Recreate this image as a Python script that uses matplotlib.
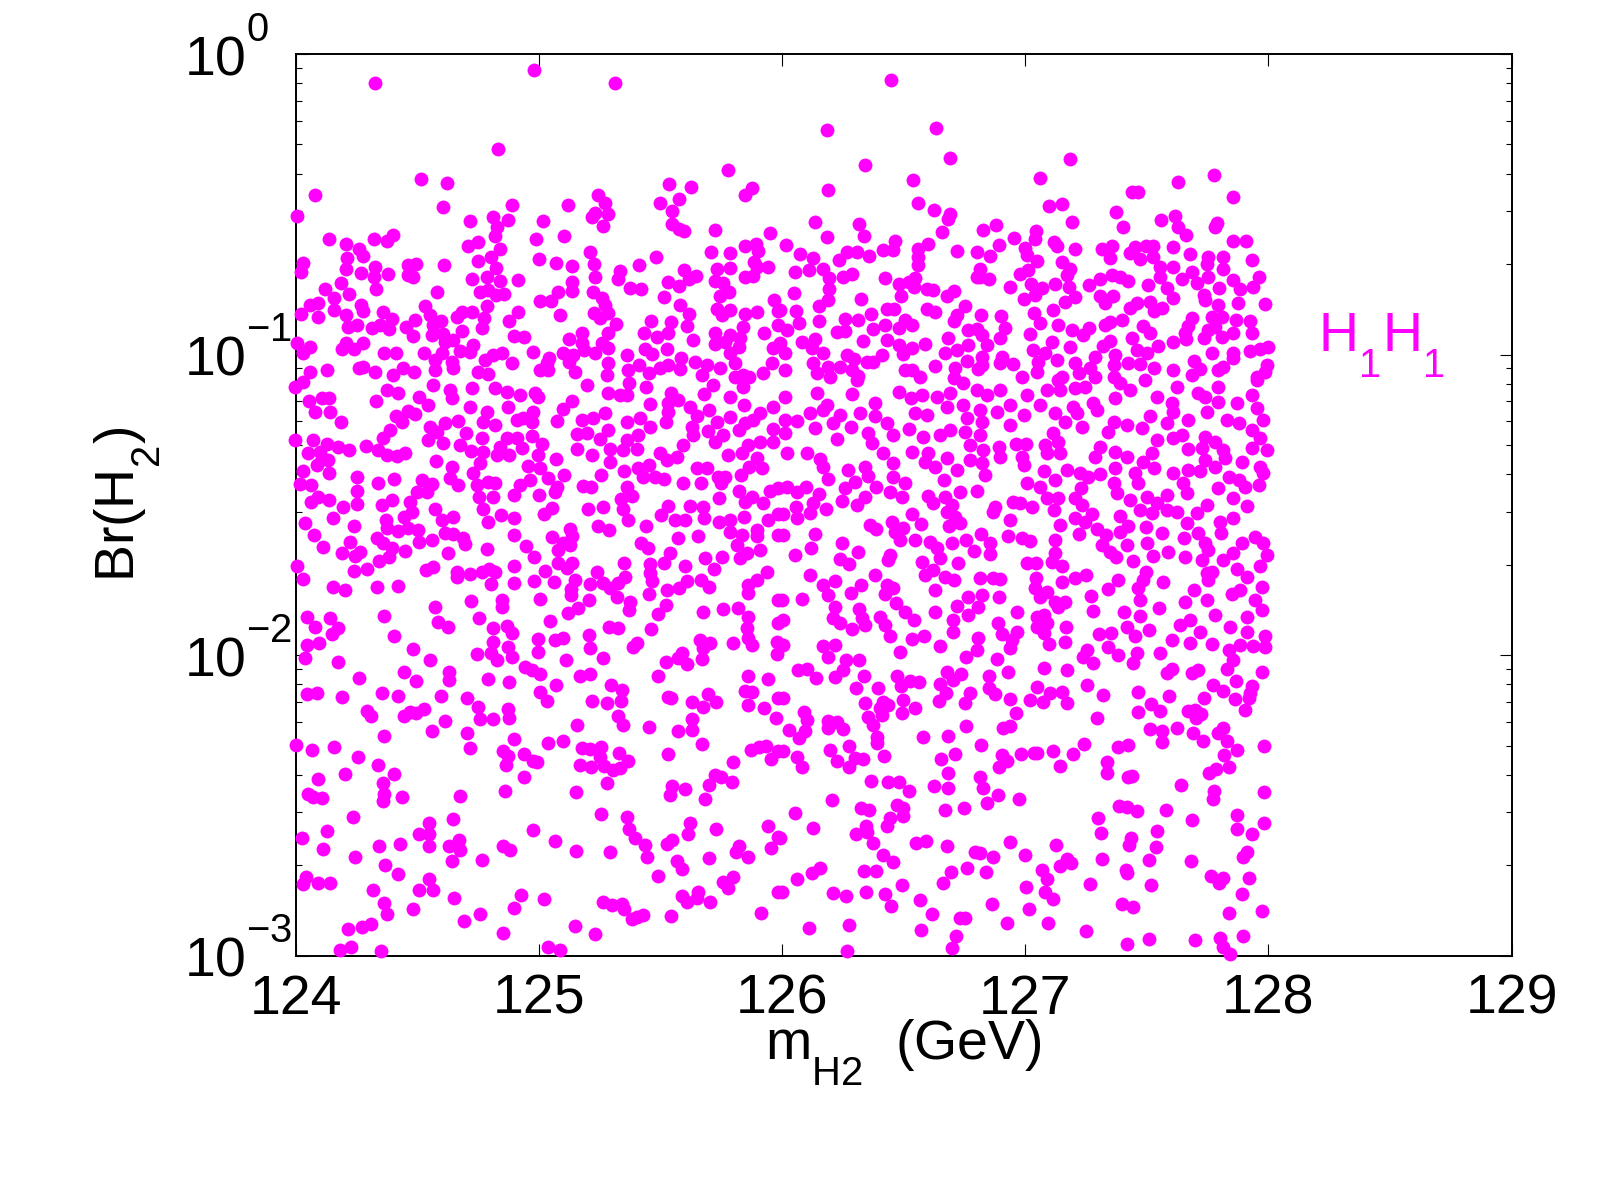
import numpy as np
import matplotlib
matplotlib.use("Agg")
import matplotlib.pyplot as plt
import matplotlib._mathtext as mathtext_internal
from matplotlib.ticker import FixedLocator, NullFormatter
from matplotlib.transforms import ScaledTranslation

plt.rcParams['font.family'] = ['Liberation Sans', 'DejaVu Sans']
plt.rcParams['mathtext.fontset'] = 'custom'
plt.rcParams['mathtext.rm'] = 'Liberation Sans'
plt.rcParams['mathtext.default'] = 'regular'

# scripts sit lower and higher in the original than mathtext's defaults
mathtext_internal.FontConstantsBase.sub1 = 0.93
mathtext_internal.FontConstantsBase.sup1 = 1.2
mathtext_internal.SHRINK_FACTOR = 0.72

# points: (m_H2 in GeV, log10 of Br)
upper_left = [
(124.327,-.095),(124.982,-.053),(125.315,-.098),(124.831,-.317),(125.779,-.386),(124.514,-.416),(124.621,-.430),(125.537,-.431),(125.626,-.443),(125.878,-.447),
(125.848,-.468),(124.080,-.470),(125.244,-.469),(125.578,-.481),(125.272,-.495),(125.498,-.495),(124.889,-.503),(125.122,-.504),(124.608,-.508),(124.006,-.538),
(125.286,-.531),(125.549,-.524),(125.229,-.528),(125.220,-.542),(124.813,-.542),(124.872,-.552),(124.717,-.555),(125.016,-.557),(125.265,-.571),(125.549,-.564),
(124.830,-.577),(125.577,-.583),(125.597,-.588),(125.725,-.584),(124.820,-.604),(125.951,-.595),(124.139,-.615),(124.399,-.601),(124.321,-.617),(124.375,-.622),
(124.987,-.615),(125.102,-.604),(124.751,-.626),(124.709,-.640),(124.206,-.633),(124.262,-.648),(124.841,-.649),(125.849,-.639),(125.892,-.632),(125.707,-.659),
(125.786,-.662),(125.902,-.654),(125.211,-.659),(124.279,-.673),(124.213,-.680),(124.804,-.676),(125.482,-.675),(124.029,-.696),(124.024,-.724),(124.751,-.690),
(124.999,-.683),(125.071,-.695),(125.135,-.706),(125.226,-.699),(124.464,-.702),(124.495,-.699),(124.610,-.702),(125.413,-.702),(124.328,-.707),(124.207,-.715),
(124.824,-.711),(125.334,-.723),(125.597,-.717),(125.734,-.714),(125.784,-.713),(125.885,-.691),(125.941,-.709),(125.896,-.707),(124.270,-.729),(124.379,-.731),
(124.464,-.734),(124.484,-.742),(124.321,-.743),(124.727,-.747),(124.786,-.741),(125.230,-.742),(125.326,-.750),(125.533,-.758),(125.645,-.739),(125.618,-.747),
(125.849,-.743),(125.879,-.739),(125.726,-.754),(124.916,-.753),(124.841,-.756),(125.138,-.759),(124.187,-.761),(125.759,-.763),(125.577,-.771),(124.121,-.781),
(124.329,-.783),(124.583,-.792),(124.758,-.793),(124.793,-.785),(124.824,-.802),(124.857,-.798),(125.137,-.787),(125.224,-.793),(125.080,-.793),(125.375,-.777),
(125.422,-.783),(125.782,-.793),(125.745,-.806),(124.220,-.799),(124.158,-.811),(125.515,-.807),(125.967,-.818),(125.006,-.822),(125.049,-.822),(125.259,-.813),
(124.269,-.834),(124.059,-.835),(124.094,-.829),(124.532,-.840),(124.786,-.840),(125.581,-.834),(124.158,-.852),(124.279,-.855),(125.272,-.835),(125.734,-.847),
(125.786,-.851),(125.984,-.854),(124.024,-.866),(124.091,-.874),(124.206,-.870),(124.361,-.857),(124.724,-.858),(124.684,-.857),(124.916,-.857),(125.089,-.868),
(125.227,-.863),(125.286,-.863),(125.619,-.866),(125.848,-.866),(125.896,-.859),(125.755,-.868),(124.553,-.868),(124.662,-.876),(124.775,-.879),(124.491,-.885),
(124.599,-.887),(124.396,-.883),(125.461,-.889),(125.542,-.893),(124.879,-.888),(125.252,-.879),(125.608,-.904),(125.841,-.907),(125.985,-.903),(124.216,-.907),
(124.254,-.903),(124.313,-.910),(124.347,-.902),(124.384,-.916),(124.454,-.907),(124.767,-.911),(125.316,-.899),(124.566,-.902),(124.686,-.921),(125.725,-.927),
(125.927,-.928),(125.434,-.929),(125.176,-.929),(125.286,-.929),(125.533,-.929),(125.485,-.940),(124.484,-.939),(124.605,-.931),(124.561,-.935),(124.900,-.937),
(124.941,-.940),(125.784,-.936),(125.633,-.950),(125.126,-.948),(125.827,-.946),(124.649,-.951),(125.725,-.965),(125.766,-.957),(124.007,-.962),(124.059,-.975),
(124.029,-.994),(124.207,-.962),(124.279,-.962),(124.192,-.981),(124.242,-.982),(124.731,-.968),(124.614,-.957),(125.176,-.962),(125.259,-.962),(125.186,-.985),
(125.231,-.996),(125.286,-.979),(125.825,-.974),(125.437,-.980),(125.526,-.981),(125.964,-.979),(124.365,-.994),(124.413,-.994),(124.529,-.996),(124.603,-.996),
(124.676,-.987),(124.717,-.991),(124.847,-.994),(124.813,-1.001),(124.779,-1.018),(124.975,-.991),(125.101,-.996),(125.142,-1.001),(125.361,-1.002),(125.464,-.998),
(125.786,-.996),(125.586,-1.010),(125.043,-1.011),(125.126,-1.024),(124.573,-1.018),(124.642,-1.024),(125.286,-1.029),(125.642,-1.024),(125.807,-1.028),(125.693,-1.035),
(125.958,-1.027),(124.891,-1.029),(125.413,-1.035),(125.032,-1.029),(125.005,-1.051),(124.128,-1.053),(124.279,-1.040),(124.262,-1.044),(124.443,-1.046),(124.488,-1.057),
(124.573,-1.051),(124.646,-1.044),(125.368,-1.051),(125.498,-1.044),(125.533,-1.035),(125.581,-1.049),(125.745,-1.046),(125.149,-1.059),(125.038,-1.051),(124.750,-1.057),
(124.059,-1.057),(124.327,-1.057),(124.793,-1.065),(124.402,-1.068),(125.279,-1.068),(125.451,-1.062),(125.670,-1.068),(125.923,-1.062),(125.807,-1.073),(125.841,-1.068),
(125.866,-1.076),
]

upper_right = [
(126.450,-.088),(126.184,-.254),(126.631,-.247),(126.691,-.347),(127.182,-.348),(126.343,-.370),(126.537,-.420),(127.062,-.414),(127.629,-.425),(127.778,-.404),
(127.438,-.458),(127.465,-.458),(126.188,-.452),(127.856,-.475),(126.561,-.496),(126.624,-.518),(127.097,-.505),(127.153,-.499),(126.691,-.532),(126.681,-.549),
(127.375,-.526),(127.615,-.539),(126.135,-.560),(126.318,-.565),(127.191,-.560),(126.879,-.568),(127.557,-.553),(127.401,-.575),(127.787,-.563),(127.779,-.575),
(126.828,-.586),(127.045,-.590),(126.659,-.591),(127.630,-.577),(126.184,-.608),(126.337,-.604),(127.659,-.602),(127.041,-.615),(126.954,-.613),(127.856,-.621),
(127.907,-.621),(126.465,-.622),(126.018,-.635),(127.117,-.624),(126.601,-.632),(126.894,-.634),(127.130,-.639),(127.205,-.648),(127.356,-.639),(127.317,-.650),
(127.452,-.641),(127.496,-.639),(127.524,-.639),(127.609,-.641),(126.721,-.654),(126.417,-.652),(126.455,-.652),(126.557,-.650),(127.000,-.647),(126.073,-.664),
(126.803,-.658),(127.431,-.663),(127.678,-.665),(126.307,-.659),(126.266,-.658),(126.359,-.671),(126.855,-.672),(126.129,-.680),(126.236,-.685),(126.557,-.674),
(127.349,-.680),(127.470,-.683),(127.527,-.674),(127.753,-.674),(127.812,-.674),(127.931,-.685),(127.047,-.690),(127.152,-.691),(127.555,-.707),(127.746,-.699),
(126.561,-.703),(127.006,-.669),(126.814,-.714),(127.184,-.716),(127.609,-.707),(126.167,-.715),(126.109,-.718),(126.054,-.724),(126.287,-.733),(126.252,-.742),
(127.815,-.716),(127.685,-.724),(127.013,-.718),(126.979,-.733),(127.171,-.735),(127.356,-.735),(127.308,-.747),(127.390,-.743),(127.424,-.755),(126.814,-.741),
(126.849,-.747),(126.803,-.743),(126.195,-.746),(126.425,-.746),(126.547,-.746),(126.520,-.757),(127.959,-.743),(127.753,-.743),(127.644,-.747),(127.555,-.741),
(127.853,-.752),(127.708,-.763),(126.479,-.766),(126.544,-.774),(127.123,-.765),(127.504,-.768),(126.938,-.775),(127.264,-.770),(127.023,-.766),(126.595,-.783),
(126.622,-.785),(126.705,-.787),(127.180,-.774),(127.935,-.776),(127.796,-.780),(127.881,-.783),(127.582,-.780),(126.192,-.781),(127.068,-.780),(127.041,-.802),
(126.488,-.805),(126.050,-.796),(126.677,-.804),(126.325,-.814),(126.187,-.817),(126.993,-.816),(127.205,-.808),(127.308,-.805),(127.360,-.804),(127.733,-.802),
(127.740,-.818),(127.609,-.813),(127.328,-.829),(127.164,-.824),(127.511,-.824),(127.459,-.829),(127.875,-.829),(127.986,-.831),(126.150,-.838),(127.794,-.836),
(126.753,-.840),(127.431,-.846),(127.561,-.844),(127.531,-.854),(126.433,-.849),(126.462,-.849),(126.595,-.849),(126.627,-.860),(127.116,-.852),(126.056,-.854),
(125.992,-.852),(127.034,-.862),(126.718,-.868),(126.818,-.870),(126.899,-.872),(126.365,-.866),(127.685,-.879),(127.767,-.874),(127.808,-.874),(126.314,-.885),
(126.154,-.887),(126.257,-.883),(126.070,-.896),(126.506,-.885),(127.866,-.886),(127.925,-.888),(127.061,-.894),(127.397,-.885),(127.349,-.890),(127.328,-.902),
(126.705,-.888),(126.424,-.902),(126.536,-.902),(127.136,-.902),(127.671,-.905),(127.781,-.907),(127.264,-.913),(127.483,-.905),(126.917,-.913),(126.479,-.913),
(126.019,-.918),(126.259,-.921),(126.225,-.925),(126.376,-.916),(126.766,-.918),(126.801,-.916),(127.191,-.918),(127.753,-.918),(127.657,-.929),(127.513,-.929),
(127.856,-.929),(127.931,-.929),(127.020,-.931),(127.438,-.946),(126.897,-.944),(127.239,-.935),(126.684,-.946),(126.821,-.935),(127.735,-.946),(127.808,-.940),
(126.332,-.955),(126.431,-.951),(127.349,-.955),(127.109,-.957),(127.607,-.958),(127.660,-.949),(126.081,-.957),(126.136,-.949),(127.321,-.970),(126.587,-.966),
(126.766,-.968),(126.842,-.968),(126.479,-.968),(127.544,-.971),(127.998,-.974),(127.966,-.982),(127.925,-.988),(125.992,-.962),(126.013,-.996),(126.122,-.979),
(126.170,-.996),(126.266,-1.001),(126.376,-1.024),(126.533,-.979),(126.499,-.998),(127.184,-.974),(126.821,-1.007),(126.670,-.994),(126.410,-1.001),(126.718,-.985),
(127.031,-.985),(127.082,-.996),(127.461,-.985),(127.500,-.994),(127.767,-.996),(127.856,-.994),(126.903,-1.007),(127.369,-1.001),(127.287,-1.007),(126.294,-1.016),
(126.760,-1.021),(127.130,-1.018),(126.351,-1.024),(127.856,-1.012),(127.694,-1.020),(127.424,-1.027),(126.129,-1.029),(126.629,-1.038),(126.191,-1.040),(126.239,-1.040),
(126.897,-1.029),(127.054,-1.024),(127.472,-1.031),(127.205,-1.029),(127.363,-1.035),(126.821,-1.035),(126.805,-1.049),(126.712,-1.046),(126.951,-1.032),(127.531,-1.045),
(127.815,-1.042),(127.719,-1.049),(127.609,-1.053),(127.794,-1.051),(127.993,-1.035),(126.013,-1.053),(126.506,-1.051),(126.533,-1.051),(126.287,-1.051),(127.047,-1.057),
(127.219,-1.060),(127.267,-1.046),(126.143,-1.062),(127.986,-1.057),(127.952,-1.073),(127.685,-1.068),(126.568,-1.073),(126.314,-1.071),(126.198,-1.073),(126.986,-1.073),
(126.705,-1.079),(127.150,-1.076),(127.287,-1.073),(127.363,-1.073),
]

middle_left = [
(123.998,-1.107),(124.032,-1.090),(124.566,-1.101),(124.724,-1.110),(124.820,-1.112),(124.868,-1.126),(124.923,-1.134),(124.985,-1.129),(124.998,-1.140),(124.375,-1.118),
(124.423,-1.127),(124.635,-1.118),(124.642,-1.145),(124.509,-1.140),(124.546,-1.168),(124.331,-1.153),(124.057,-1.153),(124.107,-1.145),(124.139,-1.145),(124.080,-1.190),
(124.142,-1.190),(124.187,-1.223),(125.135,-1.153),(125.101,-1.182),(125.074,-1.220),(125.200,-1.101),(125.286,-1.129),(125.334,-1.134),(125.361,-1.134),(125.372,-1.093),
(125.441,-1.109),(125.457,-1.164),(125.542,-1.127),(125.574,-1.151),(125.533,-1.162),(125.533,-1.190),(125.523,-1.225),(125.622,-1.175),(125.700,-1.184),(125.649,-1.206),
(125.679,-1.131),(125.718,-1.101),(125.786,-1.140),(125.844,-1.168),(125.841,-1.107),(125.964,-1.173),(125.910,-1.195),(125.882,-1.218),(125.784,-1.209),(125.731,-1.223),
(125.848,-1.229),(125.821,-1.251),(125.629,-1.240),(125.633,-1.267),(125.697,-1.254),(125.759,-1.267),(125.725,-1.290),(125.962,-1.249),(125.910,-1.290),(125.964,-1.290),
(125.862,-1.301),(124.717,-1.175),(124.786,-1.190),(124.772,-1.223),(124.820,-1.234),(124.875,-1.175),(124.909,-1.218),(124.978,-1.190),(124.971,-1.223),(124.937,-1.212),
(124.413,-1.204),(124.436,-1.226),(124.464,-1.187),(124.491,-1.199),(124.388,-1.251),(124.361,-1.276),(124.553,-1.240),(124.614,-1.229),(124.669,-1.220),(124.701,-1.262),
(124.765,-1.276),(124.546,-1.284),(124.608,-1.293),(124.580,-1.256),(124.676,-1.301),(124.720,-1.321),(124.868,-1.276),(124.909,-1.279),(124.971,-1.271),(125.012,-1.297),
(124.930,-1.310),(124.841,-1.306),(124.827,-1.334),(124.879,-1.334),(124.998,-1.334),(124.772,-1.323),(124.758,-1.362),(123.998,-1.285),(124.073,-1.284),(124.128,-1.297),
(124.176,-1.308),(124.221,-1.317),(124.052,-1.328),(124.100,-1.323),(124.107,-1.348),(124.087,-1.367),(124.135,-1.351),(124.139,-1.393),(124.290,-1.304),(124.340,-1.317),
(124.375,-1.334),(124.416,-1.337),(124.450,-1.326),(125.156,-1.314),(125.218,-1.334),(125.176,-1.218),(125.224,-1.212),(125.272,-1.193),(125.286,-1.251),(125.156,-1.265),
(125.197,-1.262),(125.252,-1.282),(125.361,-1.223),(125.416,-1.212),(125.457,-1.240),(125.409,-1.267),(125.361,-1.284),(125.293,-1.314),(125.348,-1.317),(125.403,-1.315),
(125.293,-1.358),(125.498,-1.328),(125.526,-1.351),(125.570,-1.342),(125.594,-1.301),(125.352,-1.387),(125.409,-1.378),(125.451,-1.367),(125.430,-1.406),(125.478,-1.406),
(125.515,-1.415),(125.649,-1.376),(125.693,-1.378),(125.738,-1.406),(125.766,-1.409),(125.749,-1.428),(125.779,-1.334),(125.834,-1.328),(125.896,-1.345),(125.917,-1.378),
(125.830,-1.401),(125.866,-1.373),(124.577,-1.354),(124.642,-1.373),(124.635,-1.412),(124.669,-1.434),(124.731,-1.393),(124.957,-1.371),(125.005,-1.378),(125.071,-1.348),
(125.105,-1.402),(125.037,-1.412),(124.964,-1.417),(124.923,-1.434),(125.067,-1.456),(125.074,-1.439),(125.002,-1.468),(124.898,-1.467),(125.255,-1.400),(125.180,-1.436),
(125.213,-1.439),(125.361,-1.439),(125.382,-1.470),(125.592,-1.428),(125.667,-1.428),(124.029,-1.387),(124.018,-1.432),(124.063,-1.434),(124.254,-1.408),(124.254,-1.453),
(124.340,-1.428),(124.406,-1.413),(124.518,-1.417),(124.560,-1.432),(124.498,-1.456),(124.471,-1.489),(124.539,-1.456),(124.793,-1.423),(124.820,-1.428),(124.747,-1.434),
(124.754,-1.475),(124.813,-1.473),(124.772,-1.515),(124.062,-1.489),(124.094,-1.473),(124.137,-1.484),(124.196,-1.506),(124.254,-1.498),(124.153,-1.545),(124.354,-1.500),
(124.395,-1.484),(124.477,-1.523),(124.446,-1.539),(124.573,-1.515),(124.601,-1.552),(124.649,-1.539),(124.793,-1.558),(124.845,-1.534),(124.900,-1.545),(125.023,-1.530),
(125.053,-1.511),(125.204,-1.515),(125.265,-1.508),(125.337,-1.481),(125.348,-1.515),(125.368,-1.552),(125.742,-1.478),(125.825,-1.453),(125.848,-1.489),(125.875,-1.473),
(125.923,-1.495),(125.951,-1.453),(125.985,-1.445),(125.533,-1.504),(125.503,-1.534),(125.560,-1.552),(125.601,-1.550),(125.622,-1.503),(125.677,-1.508),(125.681,-1.545),
(125.845,-1.541),(125.944,-1.552),(125.985,-1.530),(125.742,-1.558),(125.786,-1.550),(124.039,-1.559),(124.077,-1.600),(124.242,-1.572),(124.372,-1.550),(124.377,-1.578),
(124.423,-1.586),(124.464,-1.578),(124.505,-1.584),(124.508,-1.622),(124.560,-1.617),(124.614,-1.595),(124.649,-1.597),(124.687,-1.611),(124.697,-1.631),(124.898,-1.600),
(124.946,-1.636),(125.441,-1.570),(125.245,-1.569),(125.290,-1.584),(125.053,-1.606),(125.128,-1.581),(125.135,-1.603),(125.101,-1.628),(125.080,-1.650),(125.128,-1.633),
(125.419,-1.626),(125.448,-1.642),(125.571,-1.609),(125.656,-1.602),(125.786,-1.589),(125.834,-1.600),(125.896,-1.584),(125.896,-1.603),(125.814,-1.633),(125.985,-1.600),
(124.114,-1.639),(124.224,-1.622),(124.265,-1.656),(124.190,-1.661),(124.244,-1.670),(124.333,-1.609),(124.361,-1.628),(124.395,-1.644),(124.450,-1.653),(124.384,-1.672),
(124.344,-1.687),(124.625,-1.661),(124.786,-1.647),(124.980,-1.672),(125.540,-1.659),(125.515,-1.694),(125.684,-1.678),(125.752,-1.672),(125.910,-1.650),(125.827,-1.678),
(125.855,-1.661),(124.005,-1.703),(124.029,-1.746),(124.242,-1.720),(124.295,-1.714),(124.536,-1.717),(124.564,-1.708),(124.665,-1.722),(124.662,-1.739),(124.717,-1.731),
(124.765,-1.724),(124.797,-1.713),(124.820,-1.722),(124.898,-1.703),(125.080,-1.692),(125.115,-1.711),(125.135,-1.692),(125.026,-1.720),(125.352,-1.692),(125.457,-1.698),
(125.457,-1.728),(125.464,-1.755),(125.599,-1.705),(125.722,-1.713),(125.937,-1.722),(125.896,-1.750),(125.238,-1.724),(125.355,-1.739),(125.327,-1.761),(124.155,-1.774),
(124.203,-1.783),(124.333,-1.774),(124.420,-1.770),(124.802,-1.764),(124.900,-1.761),(124.982,-1.755),(125.063,-1.758),(125.149,-1.750),(125.211,-1.764),(125.265,-1.761),
(125.293,-1.778),(125.529,-1.783),(125.577,-1.778),(125.611,-1.755),(125.667,-1.750),(125.700,-1.772),(125.862,-1.766),(125.862,-1.792),(125.131,-1.781),(125.131,-1.800),
(125.323,-1.805),(125.451,-1.798),(124.720,-1.819),(124.850,-1.816),(124.850,-1.839),(125.005,-1.814),(125.208,-1.816),(125.375,-1.822),(125.372,-1.850),(125.522,-1.833),
(125.985,-1.816),(124.573,-1.841),(125.160,-1.844),(125.119,-1.861),(125.492,-1.864),(125.677,-1.855),(125.756,-1.847),(125.818,-1.844),(124.364,-1.870),(124.048,-1.872),
(124.142,-1.877),(124.754,-1.877),(124.584,-1.891),(124.628,-1.907),(124.080,-1.908),(124.176,-1.911),(124.148,-1.929),(125.046,-1.885),(125.862,-1.874),(125.855,-1.911),
(125.985,-1.894),(124.868,-1.903),(124.813,-1.911),(124.889,-1.925),(125.290,-1.908),(125.324,-1.911),(125.461,-1.914),(124.405,-1.938),(124.098,-1.961),(124.046,-1.966),
(124.813,-1.955),(124.995,-1.947),(125.067,-1.949),(125.098,-1.942),(125.207,-1.933),(125.862,-1.944),(125.875,-1.966),(125.663,-1.949),(125.704,-1.960),(125.797,-1.960),
(125.389,-1.972),(125.403,-1.960),(125.978,-1.955),(124.484,-1.980),(124.872,-1.974),(124.995,-1.988),(124.745,-1.996),(124.802,-1.994),(125.211,-1.977),(125.978,-1.996),
(125.677,-1.977),(125.588,-1.994),(124.039,-2.008),(124.173,-2.022),(124.553,-2.016),(124.827,-2.016),(124.889,-2.007),(125.112,-2.016),(125.263,-2.010),(125.523,-2.024),
(125.670,-2.013),(125.608,-2.029),(125.574,-2.010),
]

middle_right = [
(126.013,-1.140),(126.143,-1.129),(126.184,-1.168),(126.239,-1.201),(126.170,-1.184),(126.287,-1.131),(126.307,-1.085),(126.479,-1.123),(126.529,-1.145),(126.575,-1.134),
(126.636,-1.140),(126.691,-1.129),(126.746,-1.096),(126.801,-1.118),(126.842,-1.134),(126.897,-1.118),(126.383,-1.162),(126.115,-1.193),(126.061,-1.220),(126.013,-1.218),
(126.136,-1.245),(126.211,-1.229),(126.283,-1.242),(126.321,-1.195),(126.383,-1.206),(126.431,-1.229),(126.225,-1.282),(126.013,-1.262),(126.355,-1.262),(126.369,-1.295),
(126.458,-1.267),(126.520,-1.249),(126.581,-1.273),(126.533,-1.323),(126.417,-1.328),(126.458,-1.362),(126.547,-1.195),(126.595,-1.201),(126.677,-1.173),(126.746,-1.168),
(126.814,-1.184),(126.883,-1.190),(126.938,-1.168),(126.995,-1.200),(126.938,-1.234),(127.006,-1.134),(127.061,-1.168),(127.088,-1.118),(127.136,-1.085),(127.143,-1.118),
(127.123,-1.195),(127.205,-1.112),(127.246,-1.107),(127.198,-1.173),(127.232,-1.240),(127.280,-1.162),(127.369,-1.145),(127.431,-1.118),(127.390,-1.096),(127.493,-1.085),
(127.541,-1.140),(127.623,-1.107),(127.712,-1.129),(127.739,-1.140),(127.792,-1.107),(127.931,-1.134),(127.952,-1.085),(126.760,-1.212),(126.821,-1.223),(126.691,-1.251),
(126.650,-1.267),(126.753,-1.256),(126.814,-1.267),(126.890,-1.306),(126.828,-1.317),(126.897,-1.342),(126.773,-1.301),(126.677,-1.345),(126.602,-1.328),(126.588,-1.356),
(126.629,-1.373),(126.718,-1.384),(126.664,-1.417),(126.835,-1.401),(126.773,-1.351),(126.821,-1.362),(126.962,-1.297),(127.003,-1.297),(126.986,-1.342),(126.993,-1.367),
(127.113,-1.262),(127.082,-1.301),(127.136,-1.290),(127.088,-1.328),(127.143,-1.328),(127.308,-1.308),(127.287,-1.340),(127.369,-1.323),(127.417,-1.340),(127.171,-1.384),
(127.226,-1.395),(127.260,-1.406),(127.308,-1.397),(127.369,-1.378),(127.363,-1.428),(127.379,-1.459),(127.452,-1.395),(127.465,-1.428),(127.530,-1.376),(127.486,-1.356),
(127.520,-1.328),(127.609,-1.395),(127.417,-1.234),(127.342,-1.256),(127.164,-1.223),(127.212,-1.195),(127.294,-1.184),(127.363,-1.223),(127.479,-1.245),(127.513,-1.206),
(127.582,-1.229),(127.541,-1.284),(127.609,-1.279),(127.671,-1.218),(127.644,-1.267),(127.668,-1.315),(127.739,-1.273),(127.726,-1.312),(127.781,-1.290),(127.815,-1.317),
(127.739,-1.351),(127.822,-1.345),(127.781,-1.373),(127.890,-1.356),(127.746,-1.190),(127.794,-1.157),(127.870,-1.162),(127.877,-1.229),(127.829,-1.218),(127.931,-1.251),
(127.979,-1.218),(127.952,-1.179),(127.931,-1.312),(127.992,-1.317),(127.966,-1.279),(127.966,-1.373),(127.979,-1.395),(127.962,-1.434),(127.836,-1.406),(127.877,-1.417),
(127.904,-1.439),(127.794,-1.443),(127.671,-1.384),(127.719,-1.389),(127.650,-1.428),(127.664,-1.462),(127.609,-1.190),(127.602,-1.162),(126.019,-1.328),(126.102,-1.328),
(126.156,-1.348),(126.170,-1.373),(126.191,-1.415),(126.273,-1.384),(126.342,-1.373),(126.355,-1.403),(126.259,-1.445),(126.300,-1.423),(126.385,-1.439),(126.444,-1.456),
(126.506,-1.428),(126.492,-1.475),(126.458,-1.406),(126.248,-1.487),(126.310,-1.499),(126.342,-1.473),(126.019,-1.439),(126.061,-1.456),(126.099,-1.439),(126.150,-1.464),
(126.129,-1.495),(126.058,-1.506),(126.006,-1.530),(126.061,-1.545),(126.115,-1.528),(126.181,-1.514),(126.362,-1.567),(126.387,-1.580),(126.451,-1.556),(126.465,-1.589),
(126.499,-1.578),(126.485,-1.617),(126.547,-1.617),(126.533,-1.530),(126.570,-1.564),(126.609,-1.622),(126.636,-1.644),(126.650,-1.678),(126.602,-1.470),(126.622,-1.495),
(126.670,-1.473),(126.732,-1.456),(126.801,-1.453),(126.698,-1.500),(126.677,-1.523),(126.712,-1.539),(126.732,-1.561),(126.688,-1.572),(126.876,-1.508),(126.869,-1.523),
(126.938,-1.550),(126.951,-1.489),(126.979,-1.495),(127.027,-1.508),(127.006,-1.428),(127.075,-1.389),(127.123,-1.417),(127.061,-1.439),(127.088,-1.478),(127.136,-1.478),
(127.119,-1.517),(127.141,-1.567),(127.205,-1.478),(127.230,-1.445),(127.232,-1.500),(127.205,-1.545),(127.274,-1.530),(127.246,-1.556),(127.223,-1.597),(127.294,-1.581),
(127.332,-1.600),(127.315,-1.633),(127.349,-1.656),(127.374,-1.674),(127.390,-1.537),(127.424,-1.572),(127.390,-1.589),(127.417,-1.633),(127.500,-1.628),(127.497,-1.575),
(127.431,-1.484),(127.472,-1.517),(127.500,-1.473),(127.541,-1.495),(127.582,-1.467),(127.520,-1.528),(127.582,-1.517),(127.623,-1.523),(127.664,-1.559),(127.705,-1.528),
(127.712,-1.595),(127.746,-1.500),(127.739,-1.628),(127.801,-1.556),(127.804,-1.595),(127.856,-1.478),(127.911,-1.503),(127.856,-1.545),(127.561,-1.595),(127.653,-1.611),
(127.655,-1.672),(127.586,-1.656),(127.527,-1.669),(127.442,-1.687),(127.753,-1.650),(127.726,-1.683),(127.815,-1.683),(127.856,-1.661),(127.890,-1.628),(127.945,-1.606),
(127.979,-1.628),(127.993,-1.667),(127.966,-1.705),(127.870,-1.713),(127.911,-1.739),(127.973,-1.772),(127.746,-1.728),(127.767,-1.722),(127.753,-1.750),(127.497,-1.722),
(127.483,-1.750),(127.465,-1.778),(127.470,-1.816),(127.568,-1.758),(127.383,-1.750),(127.342,-1.780),(127.549,-1.844),(127.404,-1.857),(127.470,-1.870),(127.280,-1.853),
(127.271,-1.802),(126.136,-1.597),(126.118,-1.644),(126.054,-1.667),(126.006,-1.600),(126.246,-1.628),(126.314,-1.656),(126.239,-1.681),(126.277,-1.698),(126.444,-1.667),
(126.437,-1.683),(126.698,-1.628),(126.755,-1.617),(126.818,-1.598),(126.855,-1.628),(126.853,-1.664),(126.790,-1.652),(126.723,-1.694),(126.927,-1.602),(126.986,-1.611),
(127.020,-1.619),(127.123,-1.617),(127.123,-1.661),(127.109,-1.689),(127.150,-1.705),(127.006,-1.694),(127.045,-1.692),(126.577,-1.689),(126.588,-1.733),(126.622,-1.717),
(126.670,-1.739),(126.705,-1.750),(126.629,-1.783),(126.814,-1.742),(126.897,-1.746),(126.869,-1.744),(126.821,-1.800),(126.766,-1.805),(126.894,-1.805),(126.807,-1.841),
(126.718,-1.836),(126.764,-1.866),(127.150,-1.758),(127.205,-1.744),(127.249,-1.733),(127.045,-1.744),(127.041,-1.778),(127.061,-1.805),(127.088,-1.789),(127.123,-1.822),
(127.164,-1.822),(127.136,-1.839),(126.113,-1.735),(126.170,-1.766),(126.218,-1.755),(126.191,-1.800),(126.283,-1.792),(126.324,-1.766),(126.383,-1.735),(126.431,-1.766),
(126.455,-1.778),(126.424,-1.796),(126.084,-1.814),(125.999,-1.816),(126.218,-1.839),(126.211,-1.877),(126.239,-1.894),(126.317,-1.847),(126.328,-1.877),(126.342,-1.900),
(126.289,-1.913),(126.469,-1.825),(126.506,-1.855),(126.543,-1.883),(126.403,-1.872),(126.424,-1.900),(126.444,-1.938),(126.533,-1.947),(126.584,-1.938),(126.629,-1.858),
(126.483,-1.988),(126.650,-1.968),(126.702,-1.883),(126.702,-1.922),(126.887,-1.894),(126.903,-1.929),(126.968,-1.855),(126.965,-1.922),(126.945,-1.949),(126.938,-1.977),
(126.806,-1.944),(126.801,-1.983),(126.757,-2.007),(126.883,-2.014),(127.047,-1.872),(127.075,-1.866),(127.088,-1.894),(127.047,-1.905),(127.075,-1.927),(127.099,-1.963),
(127.168,-1.907),(127.164,-1.955),(127.253,-1.983),(127.239,-2.005),(127.280,-2.025),(127.304,-1.931),(127.353,-1.927),(127.342,-1.972),(127.383,-2.000),(127.417,-1.905),
(127.452,-1.938),(127.507,-1.916),(127.459,-1.992),(127.445,-2.027),(127.555,-1.994),(127.678,-1.883),(127.637,-1.900),(127.602,-1.949),(127.719,-1.922),(127.678,-1.958),
(127.767,-1.963),(127.781,-1.866),(127.842,-1.905),(127.911,-1.922),(127.883,-1.966),(127.938,-1.969),(127.986,-1.938),(127.986,-1.972),(127.836,-1.983),(127.856,-2.016),
(127.692,-1.783),(127.657,-1.822),(127.746,-1.816),(127.849,-1.796),(127.883,-1.783),(127.945,-1.816),(127.973,-1.850),(127.911,-1.872),(126.006,-1.883),(126.006,-1.966),
(126.170,-1.969),(126.218,-1.966),(126.191,-2.005),(126.263,-2.016),(126.317,-2.016),
]

lower_left = [
(124.262,-2.076),(124.446,-2.055),(124.495,-2.086),(124.632,-2.055),(124.632,-2.083),(124.793,-2.079),(124.879,-2.091),(124.943,-2.040),(124.971,-2.051),(125.005,-2.063),
(125.071,-2.099),(125.170,-2.071),(125.211,-2.063),(125.296,-2.099),(125.341,-2.116),(125.489,-2.069),(125.862,-2.068),(125.944,-2.079),(124.048,-2.130),(124.090,-2.127),
(124.191,-2.138),(124.355,-2.127),(124.421,-2.136),(124.598,-2.136),(124.704,-2.144),(125.005,-2.124),(125.032,-2.152),(125.218,-2.151),(125.279,-2.160),(125.339,-2.151),
(125.533,-2.140),(125.542,-2.141),(125.631,-2.157),(125.697,-2.130),(125.729,-2.157),(125.674,-2.171),(125.848,-2.118),(125.875,-2.124),(125.859,-2.166),(125.927,-2.175),
(125.985,-2.144),(124.292,-2.185),(124.312,-2.202),(124.446,-2.201),(124.471,-2.188),(124.495,-2.191),(124.528,-2.179),(124.749,-2.173),(124.758,-2.212),(124.813,-2.212),
(124.875,-2.179),(124.878,-2.210),(125.327,-2.202),(125.346,-2.232),(125.974,-2.210),(124.613,-2.219),(125.629,-2.213),(125.159,-2.233),(125.451,-2.240),(125.574,-2.254),
(125.631,-2.249),(124.561,-2.253),(124.704,-2.258),(124.365,-2.269),(124.900,-2.280),(125.037,-2.293),(125.098,-2.287),(124.000,-2.298),(124.069,-2.315),(124.158,-2.304),
(124.715,-2.308),(125.176,-2.308),(125.211,-2.313),(125.255,-2.307),(124.854,-2.318),(125.670,-2.295),(125.530,-2.329),(125.331,-2.325),(125.871,-2.315),(125.906,-2.307),
(125.934,-2.301),(125.985,-2.318),(124.255,-2.340),(124.875,-2.335),(124.941,-2.330),(124.978,-2.352),(124.994,-2.354),(125.252,-2.338),(125.368,-2.353),(125.954,-2.346),
(124.339,-2.366),(124.867,-2.365),(125.170,-2.366),(125.213,-2.371),(125.268,-2.369),(125.307,-2.382),(125.334,-2.376),(125.800,-2.354),(124.203,-2.396),(124.406,-2.397),
(124.091,-2.412),(124.939,-2.404),(125.725,-2.399),(125.748,-2.404),(124.361,-2.426),(125.279,-2.426),(125.700,-2.431),(125.795,-2.421),(125.549,-2.434),(124.052,-2.463),
(124.073,-2.473),(124.107,-2.476),(124.365,-2.463),(124.358,-2.485),(124.436,-2.471),(124.676,-2.468),(124.863,-2.452),(125.153,-2.454),(125.541,-2.465),(125.601,-2.445),
(125.685,-2.477),(125.255,-2.528),(124.235,-2.539),(124.647,-2.546),(125.361,-2.537),(124.549,-2.559),(125.622,-2.557),(125.371,-2.578),(125.941,-2.570),(124.128,-2.584),
(124.978,-2.582),(125.729,-2.578),(125.985,-2.604),(124.028,-2.610),(124.509,-2.595),(124.549,-2.595),(125.396,-2.608),(125.612,-2.596),(124.672,-2.615),(125.068,-2.618),
(125.549,-2.615),(125.526,-2.629),(124.114,-2.644),(124.342,-2.634),(124.431,-2.629),(124.547,-2.634),(124.630,-2.635),(124.854,-2.635),(124.882,-2.648),(125.437,-2.631),
(125.823,-2.635),(125.954,-2.643),(124.676,-2.648),(125.152,-2.651),(125.292,-2.654),(124.246,-2.670),(125.810,-2.656),(125.862,-2.670),(124.642,-2.685),(124.765,-2.681),
(125.446,-2.672),(125.701,-2.675),(125.570,-2.685),(124.369,-2.697),(125.590,-2.712),(124.423,-2.729),(124.043,-2.737),(124.032,-2.761),(124.091,-2.757),(124.142,-2.757),
(124.547,-2.745),(125.489,-2.736),(125.800,-2.739),(125.759,-2.756),(125.777,-2.775),(124.317,-2.783),(124.509,-2.781),(124.564,-2.781),(125.656,-2.787),(125.985,-2.789),
(124.926,-2.797),(125.589,-2.803),(124.651,-2.807),(125.022,-2.812),(125.265,-2.821),(125.300,-2.831),(125.344,-2.829),(125.608,-2.821),(125.649,-2.809),(125.704,-2.823),
(124.365,-2.826),(125.350,-2.845),(124.483,-2.845),(124.898,-2.840),(124.375,-2.862),(124.760,-2.861),(125.382,-2.879),(125.405,-2.872),(125.430,-2.864),(125.542,-2.868),
(125.914,-2.859),(124.694,-2.884),(124.309,-2.894),(124.272,-2.905),(124.214,-2.910),(125.149,-2.901),(124.852,-2.923),(125.230,-2.928),(124.227,-2.970),(124.183,-2.980),
(124.350,-2.983),(125.038,-2.970),(125.089,-2.981),
]

lower_right = [
(126.067,-2.051),(126.102,-2.047),(126.140,-2.075),(126.218,-2.074),(126.252,-2.049),(126.335,-2.069),(126.472,-2.069),(126.488,-2.102),(126.527,-2.086),(126.565,-2.088),
(126.680,-2.055),(126.736,-2.063),(126.650,-2.096),(126.701,-2.083),(126.851,-2.068),(126.929,-2.056),(127.075,-2.044),(127.171,-2.049),(127.975,-2.055),(127.685,-2.060),
(127.712,-2.049),(127.829,-2.047),(127.866,-2.085),(127.582,-2.060),(127.602,-2.047),(126.304,-2.111),(126.396,-2.108),(126.673,-2.125),(126.849,-2.108),(126.771,-2.125),
(126.876,-2.129),(127.047,-2.105),(127.102,-2.125),(127.150,-2.124),(127.254,-2.101),(127.319,-2.132),(127.463,-2.124),(127.589,-2.135),(127.771,-2.099),(127.815,-2.119),
(127.931,-2.102),(127.922,-2.127),(126.006,-2.144),(126.342,-2.160),(126.417,-2.155),(126.437,-2.166),(126.496,-2.149),(126.647,-2.151),(126.753,-2.158),(126.936,-2.147),
(127.020,-2.149),(127.071,-2.155),(127.171,-2.158),(127.735,-2.141),(127.518,-2.163),(127.863,-2.146),(127.918,-2.144),(126.092,-2.188),(126.403,-2.177),(126.547,-2.176),
(126.492,-2.193),(126.962,-2.191),(127.465,-2.190),(127.552,-2.186),(127.671,-2.186),(127.698,-2.182),(127.722,-2.196),(127.701,-2.210),(127.904,-2.182),(126.102,-2.216),
(126.191,-2.218),(126.228,-2.223),(126.191,-2.243),(126.252,-2.246),(126.355,-2.207),(126.410,-2.199),(126.376,-2.232),(127.294,-2.210),(126.757,-2.236),(126.938,-2.236),
(126.910,-2.241),(126.029,-2.249),(126.095,-2.252),(126.070,-2.277),(127.513,-2.247),(127.561,-2.254),(127.622,-2.244),(127.815,-2.243),(127.794,-2.260),(127.689,-2.260),
(126.580,-2.274),(126.681,-2.268),(126.392,-2.273),(126.389,-2.293),(127.729,-2.285),(127.561,-2.290),(127.829,-2.285),(126.277,-2.302),(126.818,-2.299),(127.242,-2.297),
(127.383,-2.304),(127.422,-2.298),(127.983,-2.301),(126.198,-2.315),(126.006,-2.318),(126.712,-2.329),(126.903,-2.332),(126.982,-2.329),(127.034,-2.324),(127.050,-2.326),
(127.112,-2.318),(127.195,-2.329),(127.870,-2.317),(127.818,-2.331),(126.061,-2.338),(126.225,-2.351),(126.300,-2.343),(126.332,-2.346),(126.420,-2.334),(126.654,-2.346),
(126.924,-2.351),(127.337,-2.354),(126.081,-2.371),(126.276,-2.373),(127.143,-2.368),(126.890,-2.373),(127.838,-2.371),(127.785,-2.379),(127.756,-2.393),(126.681,-2.392),
(127.337,-2.391),(127.438,-2.401),(127.424,-2.407),(126.365,-2.419),(126.437,-2.423),(126.479,-2.421),(126.812,-2.407),(126.521,-2.451),(126.625,-2.437),(126.684,-2.443),
(126.828,-2.443),(127.641,-2.433),(127.774,-2.451),(127.771,-2.480),(127.981,-2.454),(126.886,-2.464),(126.207,-2.482),(126.975,-2.477),(126.842,-2.493),(126.474,-2.498),
(126.499,-2.509),(126.324,-2.507),(126.359,-2.515),(126.672,-2.516),(126.749,-2.508),(127.387,-2.502),(127.417,-2.504),(127.459,-2.517),(127.579,-2.515),(126.055,-2.525),
(126.496,-2.534),(126.444,-2.541),(126.433,-2.570),(127.301,-2.541),(127.686,-2.548),(127.872,-2.531),(126.126,-2.576),(126.346,-2.570),(127.981,-2.557),(127.870,-2.579),
(127.542,-2.585),(127.934,-2.596),(126.304,-2.596),(126.351,-2.587),(127.310,-2.593),(125.992,-2.609),(127.434,-2.607),(127.427,-2.631),(126.372,-2.624),(126.551,-2.624),
(126.592,-2.619),(126.680,-2.636),(126.938,-2.623),(127.126,-2.631),(127.538,-2.638),(126.794,-2.656),(126.814,-2.657),(126.417,-2.665),(126.997,-2.665),(126.869,-2.671),
(127.911,-2.656),(127.897,-2.672),(126.458,-2.689),(127.317,-2.678),(127.171,-2.678),(127.189,-2.690),(127.141,-2.700),(127.507,-2.681),(127.681,-2.685),(126.156,-2.707),
(126.125,-2.726),(126.337,-2.718),(126.385,-2.718),(126.695,-2.721),(126.761,-2.707),(126.840,-2.720),(127.068,-2.715),(127.413,-2.715),(127.417,-2.726),(127.763,-2.735),
(127.815,-2.742),(127.797,-2.757),(127.920,-2.743),(126.061,-2.746),(127.091,-2.746),(126.661,-2.757),(126.492,-2.765),(127.001,-2.770),(127.268,-2.763),(127.515,-2.765),
(125.999,-2.787),(126.211,-2.790),(126.263,-2.803),(126.346,-2.787),(126.425,-2.796),(127.082,-2.789),(127.113,-2.811),(127.890,-2.794),(126.566,-2.816),(126.447,-2.833),
(126.864,-2.828),(127.017,-2.844),(127.397,-2.827),(127.445,-2.839),(127.973,-2.851),(126.618,-2.861),(127.838,-2.857),(126.732,-2.875),(126.753,-2.875),(126.925,-2.892),
(127.093,-2.890),(126.111,-2.908),(126.277,-2.898),(126.572,-2.914),(127.250,-2.919),(126.714,-2.935),(127.509,-2.944),(127.697,-2.949),(127.801,-2.942),(127.897,-2.933),
(127.417,-2.961),(126.699,-2.975),(127.815,-2.972),(126.266,-2.985),(127.841,-2.996),
]

x_ticks = [124, 125, 126, 127, 128, 129]
y_major = [1e-3, 1e-2, 1e-1, 1e0]
y_labels = ['$10^{-3}$', '$10^{-2}$', '$10^{-1}$', '$10^{0}$']
y_minor = [m * d for d in [1e-3, 1e-2, 1e-1] for m in range(2, 10)]

points = np.array(upper_left + upper_right + middle_left + middle_right + lower_left + lower_right)
m_h2 = points[:, 0]
br = 10 ** points[:, 1]

fig = plt.figure(figsize=(16, 12.03), dpi=100)
ax = fig.add_axes([295.6 / 1600, 1 - 955.7 / 1203, (1511.7 - 295.6) / 1600, (955.7 - 54) / 1203])

ax.scatter(m_h2, br, s=100, c='#ff00ff', linewidths=0, clip_on=False, zorder=3)

ax.set_yscale('log')
ax.set_xlim(124, 129)
ax.set_ylim(1e-3, 1)
ax.set_xticks(x_ticks)
ax.set_yticks(y_major)
ax.set_yticklabels(y_labels)
ax.yaxis.set_minor_locator(FixedLocator(y_minor))
ax.yaxis.set_minor_formatter(NullFormatter())

ax.tick_params(which='major', direction='in', length=8.6, width=0.8, top=True, right=True, labelsize=40)
ax.tick_params(which='minor', direction='in', length=4.3, width=0.8, right=True)
ax.tick_params(axis='x', pad=13)
ax.tick_params(axis='y', pad=80.6)
for spine in ax.spines.values():
    spine.set_linewidth(1.4)

# y labels start at a common left edge, baseline under the tick
drop = ScaledTranslation(0, -21 / 100, fig.dpi_scale_trans)
for lab in ax.get_yticklabels():
    lab.set_ha('left')
    lab.set_va('baseline')
    lab.set_transform(lab.get_transform() + drop)

ax.set_xlabel('$m_{H2}$  (GeV)', fontsize=40)
ax.xaxis.set_label_coords(0.4995, -0.068)
ax.set_ylabel('$Br(H_2)$', fontsize=40)
ax.yaxis.set_label_coords(-0.109, 0.501)
ax.text(128.204, 0.103, '$H_1H_1$', color='#ff00ff', fontsize=40, va='baseline', ha='left')

fig.savefig('out.png', dpi=100)
